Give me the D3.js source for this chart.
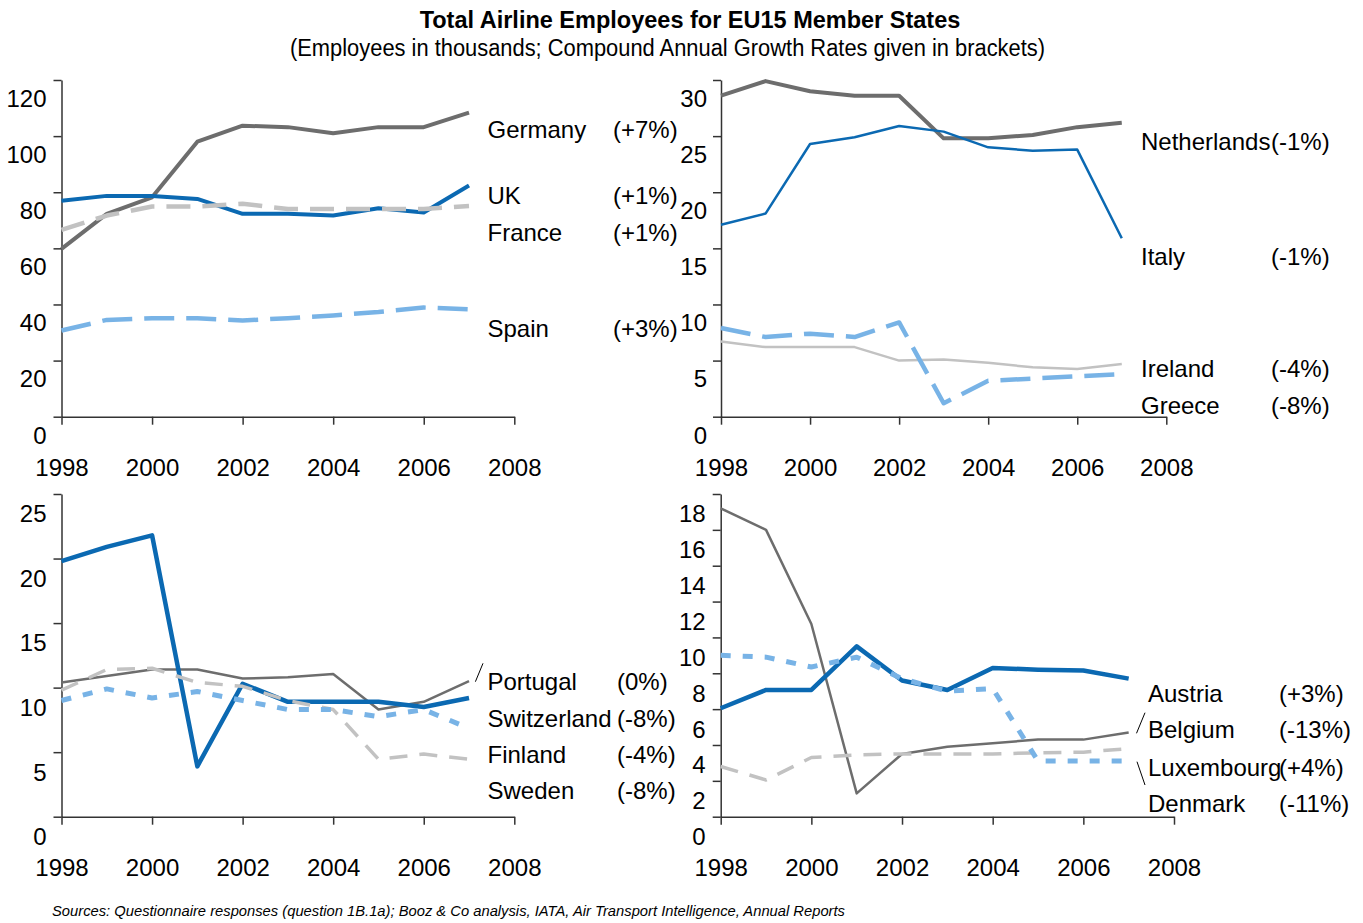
<!DOCTYPE html>
<html><head><meta charset="utf-8">
<script src="https://cdn.jsdelivr.net/npm/d3@7"></script>
<style>
body{margin:0;background:#fff}
text{font-family:"Liberation Sans",Arial,sans-serif;fill:#000}
</style>
</head><body>
<svg id="chart" width="1363" height="923"></svg>
<script>
// ---------- data ----------
const years = [1998,1999,2000,2001,2002,2003,2004,2005,2006,2007];
const xTickValues = [1998,2000,2002,2004,2006,2008];

// Panel 1 (0-120)
const germany = [59.8,72.3,78.2,98.0,103.7,103.2,101.0,103.2,103.2,108.4];
const uk      = [77.0,78.7,78.7,77.6,72.3,72.3,71.7,74.3,72.8,82.4];
const france  = [66.6,71.7,74.9,74.9,75.9,74.0,74.0,74.0,74.0,75.1];
const spain   = [30.7,34.5,35.1,35.1,34.3,35.1,36.1,37.3,38.9,38.3];
const yTicks1 = [0,20,40,60,80,100,120];

// Panel 2 (0-30)
const netherlands = [28.6,29.9,29.0,28.6,28.6,24.8,24.8,25.1,25.8,26.2];
const italy       = [17.1,18.1,24.3,24.9,25.9,25.4,24.0,23.7,23.8,15.9];
const ireland     = [6.7,6.2,6.2,6.2,5.0,5.1,4.8,4.4,4.25,4.7];
const greece      = [7.9,7.1,7.4,7.1,8.4,1.2,3.2,3.4,3.6,3.8];
const yTicks2 = [0,5,10,15,20,25,30];

// Panel 3 (0-25)
const portugal    = [10.4,10.9,11.4,11.4,10.7,10.8,11.05,8.3,8.9,10.5];
const switzerland = [19.8,20.9,21.8,3.9,10.3,8.9,8.9,8.9,8.5,9.2];
const finland     = [9.8,11.4,11.5,10.4,10.1,9.0,8.3,4.45,4.85,4.45];
const sweden      = [9.0,9.9,9.2,9.7,9.0,8.3,8.3,7.75,8.3,6.85];
const yTicks3 = [0,5,10,15,20,25];

// Panel 4 (0-18)
const belgium    = [17.2,16.0,10.75,1.3,3.5,3.9,4.1,4.3,4.3,4.7];
const austria    = [6.05,7.07,7.07,9.5,7.6,7.07,8.3,8.2,8.15,7.7];
const luxembourg = [2.8,2.05,3.3,3.45,3.5,3.5,3.5,3.57,3.6,3.8];
const denmark    = [9.0,8.9,8.35,8.9,7.7,7.0,7.15,3.1,3.1,3.1];
const yTicks4 = [0,2,4,6,8,10,12,14,16,18];

const labels1 = ["Germany","UK","France","Spain"];
const rates1  = ["(+7%)","(+1%)","(+1%)","(+3%)"];
const labels2 = ["Netherlands","Italy","Ireland","Greece"];
const rates2  = ["(-1%)","(-1%)","(-4%)","(-8%)"];
const labels3 = ["Portugal","Switzerland","Finland","Sweden"];
const rates3  = ["(0%)","(-8%)","(-4%)","(-8%)"];
const labels4 = ["Austria","Belgium","Luxembourg","Denmark"];
const rates4  = ["(+3%)","(-13%)","(+4%)","(-11%)"];

// ---------- styles ----------
const DARK="#6d6d6d", BLUE="#0b69b2", LGRAY="#c2c2c2", LBLUE="#78b3e6";

const svg = d3.select("#chart");
svg.append("rect").attr("width",1363).attr("height",923).attr("fill","#fff");

svg.append("text").attr("x",690).attr("y",28).attr("text-anchor","middle")
  .style("font-size","23.5px").style("font-weight","bold")
  .text("Total Airline Employees for EU15 Member States");
svg.append("text").attr("x",290).attr("y",56)
  .attr("textLength",755).attr("lengthAdjust","spacingAndGlyphs")
  .style("font-size","23.5px")
  .text("(Employees in thousands; Compound Annual Growth Rates given in brackets)");

function panel(cfg){
  const x = d3.scaleLinear().domain([1998,2008]).range([cfg.x0,cfg.x1]);
  const y = d3.scaleLinear().domain([0,cfg.ymax]).range([cfg.y0,cfg.y1]);
  const g = svg.append("g");

  const ya = g.append("g").attr("transform",`translate(${cfg.x0},0)`)
    .call(d3.axisLeft(y).tickValues(cfg.yTicks).tickSize(8).tickSizeOuter(0).tickPadding(cfg.ypad||7));
  const xa = g.append("g").attr("transform",`translate(0,${cfg.y0})`)
    .call(d3.axisBottom(x).tickValues(xTickValues).tickFormat(d3.format("d")).tickSize(8).tickSizeOuter(0));
  [ya,xa].forEach(a=>{
    a.attr("font-family",null).attr("font-size",null);
    a.selectAll("path,line").attr("stroke","#333").attr("stroke-width",1.5);
    a.selectAll("text").style("font-size","24px").attr("fill","#000");
  });
  ya.selectAll("text").attr("y",cfg.ylabOff).attr("dy","0.35em");
  xa.selectAll("text").attr("y",59).attr("dy","0");

  const line = d3.line().x((d,i)=>x(years[i])).y(d=>y(d));
  cfg.series.forEach(s=>{
    g.append("path").datum(s.data).attr("d",line).attr("fill","none")
      .attr("stroke",s.color).attr("stroke-width",s.w)
      .attr("stroke-dasharray",s.dash||null)
      .attr("stroke-linejoin","round");
  });
  cfg.legend.forEach((t,i)=>{
    g.append("text").attr("x",cfg.lx).attr("y",cfg.ly[i]).attr("dy","0.35em")
      .style("font-size","24px").text(t);
    g.append("text").attr("x",cfg.px).attr("y",cfg.ly[i]).attr("dy","0.35em")
      .style("font-size","24px").text(cfg.rates[i]);
  });
  (cfg.leaders||[]).forEach(l=>{
    g.append("line").attr("x1",l[0]).attr("y1",l[1]).attr("x2",l[2]).attr("y2",l[3])
      .attr("stroke","#000").attr("stroke-width",1);
  });
}

panel({x0:61.5,x1:514.3,y0:416.7,y1:80,ymax:120,yTicks:yTicks1,ylabOff:18,
  series:[{data:germany,color:DARK,w:4},{data:uk,color:BLUE,w:4},
          {data:france,color:LGRAY,w:4.5,dash:"24,12"},{data:spain,color:LBLUE,w:4.5,dash:"30,12"}],
  legend:labels1,rates:rates1,lx:487.5,px:613,ly:[130,196,232.7,328.3]});

panel({x0:721,x1:1166.3,y0:416.7,y1:80,ymax:30,yTicks:yTicks2,ylabOff:18,ypad:6,
  series:[{data:netherlands,color:DARK,w:4},{data:italy,color:BLUE,w:2.5},
          {data:ireland,color:LGRAY,w:2.5},{data:greece,color:LBLUE,w:4.5,dash:"30,12"}],
  legend:labels2,rates:rates2,lx:1141,px:1271,ly:[141.7,256.7,369,406]});

panel({x0:61.5,x1:514.3,y0:816.7,y1:494,ymax:25,yTicks:yTicks3,ylabOff:19.5,
  series:[{data:portugal,color:DARK,w:2.5},{data:switzerland,color:BLUE,w:4.5},
          {data:finland,color:LGRAY,w:3.5,dash:"18,12"},{data:sweden,color:LBLUE,w:5,dash:"10,12"}],
  legend:labels3,rates:rates3,lx:487.5,px:617,ly:[681.7,718.3,755,790.7],
  leaders:[[475.4,681.7,483,663.3]]});

panel({x0:720.7,x1:1174,y0:816.7,y1:494,ymax:18,yTicks:yTicks4,ylabOff:19.5,
  series:[{data:belgium,color:DARK,w:2.5},{data:austria,color:BLUE,w:4.5},
          {data:luxembourg,color:LGRAY,w:3.5,dash:"18,12"},{data:denmark,color:LBLUE,w:5,dash:"10,12"}],
  legend:labels4,rates:rates4,lx:1148,px:1279,ly:[694,730,767.7,803.3],
  leaders:[[1136.5,733.3,1145,712.7],[1137,761.7,1145,785]]});

svg.append("text").attr("x",52).attr("y",916)
  .attr("textLength",793).attr("lengthAdjust","spacingAndGlyphs")
  .style("font-size","15px").style("font-style","italic")
  .text("Sources: Questionnaire responses (question 1B.1a); Booz & Co analysis, IATA, Air Transport Intelligence, Annual Reports");
</script>
</body></html>
